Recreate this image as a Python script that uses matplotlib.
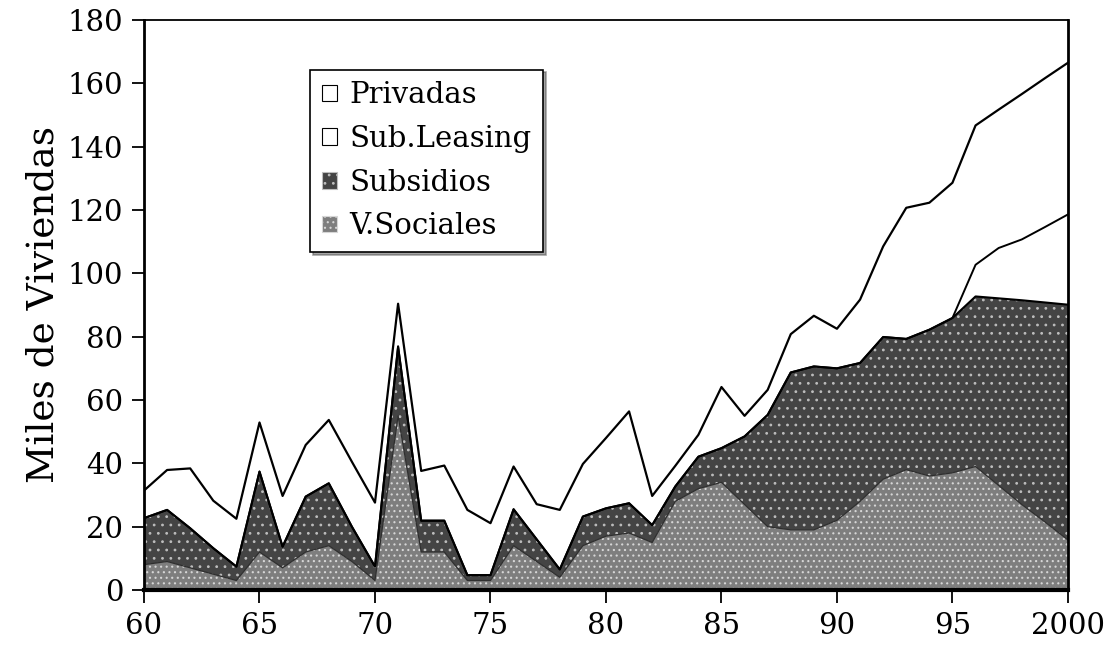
import matplotlib
matplotlib.use("Agg")
import matplotlib.pyplot as plt
from matplotlib.patches import Patch
import numpy as np

# ---------------- data (miles de viviendas) ----------------
years = list(range(60, 101))          # 60 ... 99, 100 = 2000
xtick_values = [60, 65, 70, 75, 80, 85, 90, 95, 100]
xtick_labels = ["60", "65", "70", "75", "80", "85", "90", "95", "2000"]
ytick_values = list(range(0, 181, 20))

v_sociales = [8, 9, 7, 5, 3, 12, 7, 12, 14, 9,
              3, 55, 12, 12, 3, 3, 14, 9, 4, 14,
              17, 18, 15, 28, 32, 34, 27, 20, 19, 19,
              22, 28, 35, 38, 36, 37, 39, 33, 27, 21.5,
              15.8]
subsidios = [14.7, 16.3, 12.5, 8.2, 4.4, 25.4, 6.7, 17.5, 19.7, 11.0,
             4.4, 21.9, 9.9, 9.9, 1.7, 1.7, 11.5, 7.0, 2.5, 9.2,
             8.8, 9.4, 5.5, 4.7, 10.1, 10.8, 21.5, 35.3, 49.7, 51.6,
             48.0, 43.7, 44.9, 41.3, 46.2, 48.9, 53.7, 59.1, 64.5, 69.3,
             74.3]
sub_leasing = [0] * 36 + [10.0, 15.9, 19.2, 23.8, 28.5]
privadas = [8.7, 12.6, 18.9, 15.0, 15.1, 15.5, 16.0, 16.3, 20.0, 20.5,
            20.2, 13.5, 15.7, 17.4, 20.6, 16.4, 13.5, 11.1, 18.8, 16.6,
            22.2, 29.0, 9.2, 6.5, 6.9, 19.3, 6.5, 7.9, 12.1, 16.0,
            12.5, 20.0, 28.6, 41.4, 40.1, 42.7, 44.0, 43.7, 45.9, 47.0,
            47.9]
labels = ["Privadas", "Sub.Leasing", "Subsidios", "V.Sociales"]

# ---------------- style ----------------
plt.rcParams["font.family"] = ["DejaVu Serif"]
plt.rcParams["hatch.linewidth"] = 0.8
FS = 21
col_vs = "#7e7e7e"
col_sub = "#444444"
hatch_vs = "#d6d6d6"
hatch_sub = "#bdbdbd"

fig = plt.figure(figsize=(11.06, 6.49), dpi=100)
ax = fig.add_axes([0.1302, 0.0909, 0.8354, 0.8783])

x = np.array(years, dtype=float)
c1 = np.array(v_sociales)
c2 = c1 + np.array(subsidios)
c3 = c2 + np.array(sub_leasing)
c4 = c3 + np.array(privadas)

ax.fill_between(x, 0, c1, facecolor=col_vs, edgecolor=hatch_vs, hatch="...", linewidth=0, zorder=1)
ax.fill_between(x, c1, c2, facecolor=col_sub, edgecolor=hatch_sub, hatch="..", linewidth=0, zorder=1)
ax.fill_between(x, c2, c3, facecolor="white", linewidth=0, zorder=1)
ax.fill_between(x, c3, c4, facecolor="white", linewidth=0, zorder=1)
ax.plot(x, c1, color="#2e2e2e", lw=0.9, zorder=2)
ax.plot(x, c2, color="black", lw=1.5, zorder=3)
ax.plot(x, c3, color="black", lw=1.4, zorder=3)
ax.plot(x, c4, color="black", lw=1.6, zorder=3)

ax.set_xlim(60, 100)
ax.set_ylim(0, 180)
ax.set_xticks(xtick_values)
ax.set_xticklabels(xtick_labels, fontsize=FS)
ax.set_yticks(ytick_values)
ax.set_yticklabels([str(v) for v in ytick_values], fontsize=FS)
ax.tick_params(axis="both", direction="out", length=9, width=1.3, color="black")
ax.tick_params(axis="y", pad=6)
ax.tick_params(axis="x", pad=7)
for side, w in [("left", 2.0), ("bottom", 3.0), ("top", 1.3), ("right", 2.0)]:
    ax.spines[side].set_linewidth(w)
    ax.spines[side].set_color("black")
ax.set_ylabel("Miles de Viviendas", fontsize=27, labelpad=4)

handles = [Patch(facecolor="white", edgecolor="black", linewidth=0.8),
           Patch(facecolor="white", edgecolor="black", linewidth=0.8),
           Patch(facecolor=col_sub, edgecolor=hatch_sub, hatch="..", linewidth=0.8),
           Patch(facecolor=col_vs, edgecolor=hatch_vs, hatch="...", linewidth=0.8)]
leg = ax.legend(handles, labels, loc="upper left", bbox_to_anchor=(0.18, 0.913),
                fontsize=FS, frameon=True, fancybox=False, shadow=True,
                handlelength=0.5, handleheight=0.5, handletextpad=0.45,
                labelspacing=0.54, borderpad=0.4, borderaxespad=0)
leg.get_frame().set_edgecolor("black")
leg.get_frame().set_linewidth(1.2)

fig.savefig("out.png", dpi=100)
